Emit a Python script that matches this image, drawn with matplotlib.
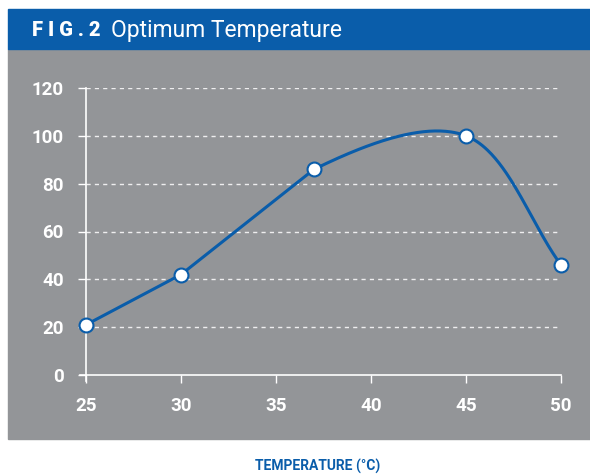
import matplotlib
matplotlib.use('Agg')
import matplotlib.pyplot as plt
from matplotlib.patches import Rectangle
import numpy as np

temps = [25, 30, 37, 45, 50]
activity = [21, 42, 86, 100, 46]
x_ticks = [25, 30, 35, 40, 45, 50]
y_ticks = [0, 20, 40, 60, 80, 100, 120]

BLUE = '#0A5DAA'
GREY = '#939598'
FONT = ['Roboto', 'DejaVu Sans']


def smooth(ax, x, y, n=80, straight_until=2):
    # hermite curve in display space: straight chords for the first segments,
    # catmull-rom tangents after that
    pts = ax.transData.transform(np.column_stack([x, y]))
    cr = np.zeros_like(pts)
    cr[0] = pts[1] - pts[0]
    cr[-1] = pts[-1] - pts[-2]
    for i in range(1, len(pts) - 1):
        cr[i] = (pts[i + 1] - pts[i - 1]) / 2
    t = np.linspace(0, 1, n)[:, None]
    h00 = 2 * t**3 - 3 * t**2 + 1
    h10 = t**3 - 2 * t**2 + t
    h01 = -2 * t**3 + 3 * t**2
    h11 = t**3 - t**2
    segs = []
    for i in range(len(pts) - 1):
        if i < straight_until:
            t0 = t1 = pts[i + 1] - pts[i]
        else:
            t0, t1 = cr[i], cr[i + 1]
        segs.append(h00 * pts[i] + h10 * t0 + h01 * pts[i + 1] + h11 * t1)
    curve = ax.transData.inverted().transform(np.vstack(segs))
    return curve[:, 0], curve[:, 1]


def main():
    fig = plt.figure(figsize=(5.9, 4.74), dpi=100)
    W, H = 590, 474

    # background panels
    fig.patches.append(Rectangle((8 / W, 1 - 439 / H), 1 - 8 / W, (439 - 49) / H,
                                 transform=fig.transFigure, color=GREY, zorder=-5))
    fig.patches.append(Rectangle((8 / W, 1 - 49 / H), 1 - 8 / W, 40 / H,
                                 transform=fig.transFigure, color=BLUE, zorder=-5))

    fig.text(32 / W, 1 - 30 / H, 'F I G . 2', color='white', fontsize=14.5, fontweight='heavy',
             family=FONT, va='center', ha='left')
    fig.text(111 / W, 1 - 30 / H, 'Optimum Temperature', color='white', fontsize=16.5,
             family=FONT, va='center', ha='left')

    ax = fig.add_axes([86 / W, 1 - 375 / H, (561 - 86) / W, (375 - 88) / H])
    ax.set_facecolor('none')
    ax.set_zorder(2)
    ax.set_xlim(25, 50)
    ax.set_ylim(0, 120)

    for s in ['top', 'right', 'left', 'bottom']:
        ax.spines[s].set_visible(False)

    # grid lines (dashed)
    for yv in y_ticks[1:]:
        ax.axhline(yv, color='white', lw=1, ls=(0, (3, 3)), zorder=1, alpha=0.85)

    # axis lines
    ax.plot([-0.013, 1], [0, 0], transform=ax.transAxes, color='white', lw=1.2,
            clip_on=False, zorder=2)
    ax.plot([0, 0], [-0.02, 1], transform=ax.transAxes, color='white', lw=1.2,
            clip_on=False, zorder=2)

    ax.set_xticks(x_ticks)
    ax.set_yticks(y_ticks)
    ax.tick_params(axis='x', colors='white', length=6, width=1, direction='out', pad=10,
                   labelsize=13.5)
    ax.tick_params(axis='y', colors='white', length=6, width=1, direction='out', pad=10,
                   labelsize=13.5)
    for lab in ax.get_xticklabels() + ax.get_yticklabels():
        lab.set_fontweight('bold')
        lab.set_family(FONT)

    sx, sy = smooth(ax, temps, activity)
    ax.plot(sx, sy, color=BLUE, lw=2.2, zorder=3, clip_on=False, solid_capstyle='round',
            solid_joinstyle='round')
    ax.plot(temps, activity, 'o', ms=10, mfc='white', mec=BLUE, mew=1.5, zorder=4,
            clip_on=False)

    fig.text(318 / W, 1 - 466 / H, 'TEMPERATURE (°C)', color=BLUE, fontsize=10,
             fontweight='bold', family=FONT, ha='center', va='center')

    fig.savefig('out.png', dpi=100, facecolor='white')


if __name__ == '__main__':
    main()
